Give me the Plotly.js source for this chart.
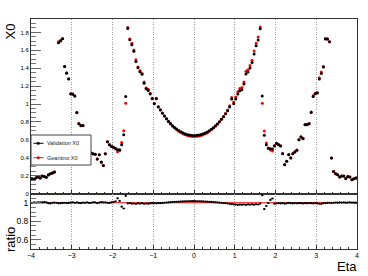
<!DOCTYPE html>
<html><head><meta charset="utf-8">
<script src="https://cdn.plot.ly/plotly-3.0.1.min.js"></script>
<style>html,body{margin:0;padding:0;background:#fff;}#chart{width:368px;height:276px;}</style>
</head><body><div id="chart"></div>
<script>
// Binning of the Eta histograms (width 0.05 from -4 to 4)
const binLow = -4, binWidth = 0.05, nBins = 160;
const eta = Array.from({length: nBins}, (_, i) => +(binLow + binWidth * (i + 0.5)).toFixed(3));

// X0 from the validation, one value per eta bin
const x0Validation = [
  0.165,0.160,0.175,0.186,0.174,0.196,0.190,0.182,0.208,0.220,
  0.228,0.240,0.400,1.685,1.705,1.730,1.420,1.345,1.280,1.115,
  1.112,1.090,0.906,0.780,0.757,0.760,0.612,0.630,0.600,0.452,
  0.445,0.440,0.385,0.434,0.352,0.314,0.445,0.578,0.545,0.527,
  0.518,0.505,0.490,0.490,0.545,0.657,1.085,1.845,1.718,1.663,
  1.590,1.476,1.405,1.360,1.333,1.233,1.170,1.152,1.113,1.059,
  1.003,1.059,0.968,0.932,0.898,0.866,0.836,0.806,0.781,0.758,
  0.738,0.720,0.704,0.690,0.678,0.668,0.660,0.654,0.650,0.648,
  0.648,0.650,0.653,0.659,0.667,0.676,0.688,0.702,0.718,0.736,
  0.756,0.778,0.803,0.830,0.858,0.890,0.926,0.968,1.056,1.003,
  1.056,1.112,1.149,1.160,1.223,1.335,1.357,1.402,1.465,1.559,
  1.651,1.715,1.841,1.090,0.652,0.545,0.505,0.500,0.497,0.530,
  0.560,0.545,0.530,0.445,0.322,0.359,0.434,0.397,0.445,0.464,
  0.482,0.600,0.631,0.612,0.769,0.769,0.780,0.906,1.085,1.115,
  1.123,1.280,1.342,1.413,1.726,1.726,1.695,0.397,0.247,0.221,
  0.210,0.184,0.195,0.195,0.169,0.191,0.184,0.154,0.165,0.173
];

// Validation / Geantino ratio, read from the lower pad
const ratioValues = [
  1.000,1.003,1.002,1.004,1.005,1.003,1.006,1.004,0.995,0.993,
  1.000,1.002,1.000,0.994,0.995,0.998,1.000,0.997,0.998,1.002,
  1.004,1.000,1.003,0.998,0.996,1.002,1.000,1.003,0.998,1.000,
  1.005,1.003,0.997,1.002,1.006,1.004,1.003,1.000,0.998,1.005,
  1.008,1.015,1.048,1.020,0.958,0.938,1.075,0.994,0.995,0.990,
  0.992,0.988,0.993,0.991,0.995,0.989,0.992,0.990,0.993,0.995,
  0.996,0.994,0.997,0.995,0.998,1.000,1.002,1.004,1.006,1.008,
  1.010,1.011,1.012,1.013,1.014,1.015,1.016,1.016,1.017,1.017,
  1.017,1.016,1.016,1.015,1.014,1.013,1.012,1.010,1.009,1.007,
  1.005,1.003,1.001,0.999,0.997,0.995,0.992,0.988,0.985,0.982,
  0.980,0.978,0.980,0.979,0.981,0.978,0.982,0.980,0.983,0.979,
  0.984,0.981,0.990,1.082,0.932,0.965,0.995,1.030,1.046,0.990,
  0.992,0.995,0.993,0.997,0.990,0.994,0.998,0.995,0.993,0.996,
  0.994,0.997,0.995,0.993,0.996,0.994,0.997,0.995,0.993,0.996,
  0.994,0.990,0.988,0.995,0.997,0.999,1.000,0.998,1.000,1.002,
  1.001,1.003,1.002,1.003,1.001,1.002,1.003,1.002,1.001,1.001
];

// Geantino X0 follows from validation and ratio
const x0Geantino = x0Validation.map((v, i) => v / ratioValues[i]);

const seriesNames = ['Validation X0', 'Geantino X0'];
const seriesColors = ['#000000', '#ff0000'];

const F = '"Liberation Sans", Arial, Helvetica, sans-serif';

const traces = [
  {x: eta, y: x0Geantino, xaxis: 'x', yaxis: 'y', type: 'scatter', mode: 'markers',
   name: seriesNames[1], marker: {color: seriesColors[1], size: 3}, hoverinfo: 'skip'},
  {x: eta, y: x0Validation, xaxis: 'x', yaxis: 'y', type: 'scatter', mode: 'markers',
   name: seriesNames[0], marker: {color: seriesColors[0], size: 3}, hoverinfo: 'skip'},
  {x: eta, y: ratioValues, xaxis: 'x2', yaxis: 'y2', type: 'scatter', mode: 'markers',
   name: 'ratio', marker: {color: '#000', size: 2.2},
   error_x: {type: 'constant', value: binWidth / 2, width: 0, thickness: 1, color: '#000'},
   hoverinfo: 'skip'}
];

const splitY = (249 - 193.5) / 230;
const px2x = p => (p - 31) / 326;
const py2y = p => (249 - p) / 230;

const axisCommon = {
  zeroline: false, showline: true, linecolor: '#333', linewidth: 1, mirror: true,
  tickcolor: '#333', ticks: 'inside'
};

const layout = {
  width: 368, height: 276,
  margin: {l: 31, r: 11, t: 19, b: 27, pad: 0},
  paper_bgcolor: '#fff', plot_bgcolor: '#fff',
  showlegend: false,
  font: {family: F, color: '#000'},
  xaxis: Object.assign({}, axisCommon, {
    domain: [0, 1], range: [-4, 4], anchor: 'y', showticklabels: false,
    tick0: 0, dtick: 1, ticklen: 4,
    showgrid: true, gridcolor: '#9a9a9a', griddash: '1px,1.5px', gridwidth: 1,
    minor: {tick0: 0, dtick: 0.2, ticks: 'inside', ticklen: 2, tickcolor: '#333', showgrid: false}
  }),
  yaxis: Object.assign({}, axisCommon, {
    domain: [splitY, 1], range: [0, 1.95], anchor: 'x',
    tick0: 0, dtick: 0.2, ticklen: 10, tickcolor: '#666',
    tickfont: {size: 6, family: F, color: '#000'}, showgrid: false,
    minor: {tick0: 0, dtick: 0.05, ticks: 'inside', ticklen: 5, tickcolor: '#777', showgrid: false}
  }),
  xaxis2: Object.assign({}, axisCommon, {
    domain: [0, 1], range: [-4, 4], anchor: 'y2',
    tick0: 0, dtick: 1, ticklen: 4,
    tickfont: {size: 7, family: F, color: '#000'},
    showgrid: true, gridcolor: '#9a9a9a', griddash: '1px,1.5px', gridwidth: 1,
    minor: {tick0: 0, dtick: 0.2, ticks: 'inside', ticklen: 2, tickcolor: '#333', showgrid: false}
  }),
  yaxis2: Object.assign({}, axisCommon, {
    domain: [0, splitY], range: [0.5, 1.1], anchor: 'x2',
    tickvals: [0.6, 0.8, 1], ticklen: 10, tickcolor: '#666',
    tickfont: {size: 8.5, family: F, color: '#000'}, showgrid: false,
    minor: {tick0: 0, dtick: 0.05, ticks: 'inside', ticklen: 5, tickcolor: '#777', showgrid: false}
  }),
  shapes: [
    {type: 'line', xref: 'x2', yref: 'y2', x0: -4, x1: 4, y0: 1, y1: 1,
     line: {color: '#ff0000', width: 1}, layer: 'below'},
    // legend box
    {type: 'rect', xref: 'paper', yref: 'paper', x0: 0, x1: px2x(91), y0: py2y(165), y1: py2y(135),
     fillcolor: '#fff', line: {color: '#444', width: 1}, layer: 'above'},
    {type: 'line', xref: 'paper', yref: 'paper', x0: px2x(33.5), x1: px2x(43.5), y0: py2y(143.3), y1: py2y(143.3),
     line: {color: seriesColors[0], width: 1}, layer: 'above'},
    {type: 'rect', xref: 'paper', yref: 'paper', x0: px2x(37), x1: px2x(39.5), y0: py2y(144.6), y1: py2y(142.1),
     fillcolor: seriesColors[0], line: {width: 0}, layer: 'above'},
    {type: 'line', xref: 'paper', yref: 'paper', x0: px2x(33.5), x1: px2x(43.5), y0: py2y(157.7), y1: py2y(157.7),
     line: {color: seriesColors[1], width: 1}, layer: 'above'},
    {type: 'rect', xref: 'paper', yref: 'paper', x0: px2x(37), x1: px2x(39.5), y0: py2y(159), y1: py2y(156.5),
     fillcolor: seriesColors[1], line: {width: 0}, layer: 'above'}
  ],
  annotations: [
    {text: seriesNames[0], xref: 'paper', yref: 'paper', x: px2x(45), y: py2y(143.3),
     xanchor: 'left', yanchor: 'middle', showarrow: false, font: {size: 5.5, family: F, color: '#222'}},
    {text: seriesNames[1], xref: 'paper', yref: 'paper', x: px2x(45), y: py2y(157.7),
     xanchor: 'left', yanchor: 'middle', showarrow: false, font: {size: 5.5, family: F, color: '#222'}},
    {text: 'X0', xref: 'paper', yref: 'paper', x: px2x(10), y: py2y(31.5), textangle: -90,
     xanchor: 'center', yanchor: 'middle', showarrow: false, font: {size: 13, family: F, color: '#000'}},
    {text: 'ratio', xref: 'paper', yref: 'paper', x: px2x(10), y: py2y(240), textangle: -90,
     xanchor: 'center', yanchor: 'middle', showarrow: false, font: {size: 13, family: F, color: '#000'}},
    {text: 'Eta', xref: 'paper', yref: 'paper', x: px2x(347), y: py2y(266),
     xanchor: 'center', yanchor: 'middle', showarrow: false, font: {size: 13, family: F, color: '#000'}}
  ]
};

Plotly.newPlot('chart', traces, layout, {staticPlot: true, displayModeBar: false});
</script>
</body></html>
